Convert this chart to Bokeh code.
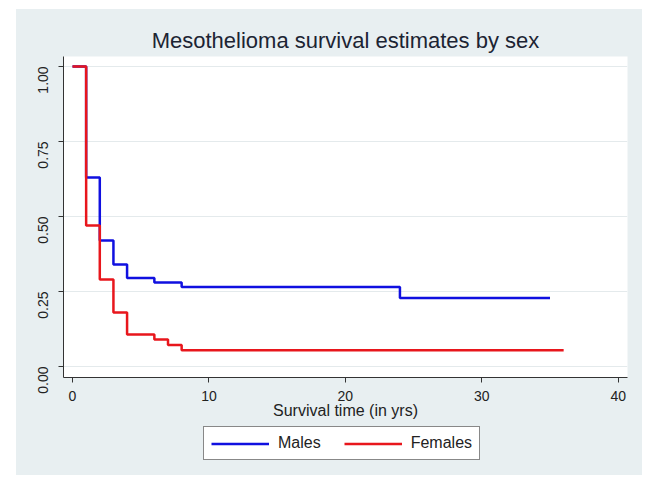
from bokeh.plotting import figure
from bokeh.layouts import column
from bokeh.models import Legend, LegendItem, NumeralTickFormatter, FixedTicker, Range1d
from bokeh.embed import file_html
from bokeh.resources import INLINE

# Kaplan-Meier step data
female_t = [0, 1, 2, 3, 4, 6, 7, 8, 36]
female_s = [1.0, 0.47, 0.29, 0.18, 0.107, 0.09, 0.072, 0.054, 0.054]
male_t = [0, 1, 2, 3, 4, 6, 8, 24, 35]
male_s = [1.0, 0.63, 0.42, 0.34, 0.295, 0.28, 0.265, 0.228, 0.228]

x_ticks = [0, 10, 20, 30, 40]
y_ticks = [0, 0.25, 0.5, 0.75, 1.0]

FONT = "Liberation Sans"
BG = "#e8eff1"
BLUE = "#1010e0"
RED = "#e8161c"

p = figure(width=626, height=413,
           x_range=Range1d(-0.66, 40.68), y_range=Range1d(-0.0367, 1.033),
           output_backend="svg", toolbar_location=None,
           min_border_left=47, min_border_right=15,
           min_border_top=47, min_border_bottom=45,
           title="Mesothelioma survival estimates by sex")
p.background_fill_color = "white"
p.border_fill_color = BG
p.outline_line_color = None

p.title.align = "center"
p.title.text_font = FONT
p.title.text_font_size = "22px"
p.title.text_font_style = "normal"
p.title.text_color = "#1c2433"
p.title.offset = 0
p.title.standoff = 8

# grid
p.xgrid.grid_line_color = None
p.ygrid.ticker = FixedTicker(ticks=y_ticks)
p.ygrid.grid_line_color = "#e4eaec"
p.ygrid.grid_line_width = 1

# axes
p.xaxis.ticker = FixedTicker(ticks=x_ticks)
p.yaxis.ticker = FixedTicker(ticks=y_ticks)
p.yaxis.formatter = NumeralTickFormatter(format="0.00")
p.yaxis.major_label_orientation = 1.5708
for ax in (p.xaxis[0], p.yaxis[0]):
    ax.axis_line_color = "#333333"
    ax.axis_line_width = 1
    ax.major_tick_line_color = "#333333"
    ax.major_tick_out = 5
    ax.major_tick_in = 0
    ax.minor_tick_line_color = None
    ax.major_label_text_font = FONT
    ax.major_label_text_font_size = "14px"
    ax.major_label_text_color = "#222222"
p.xaxis.major_label_standoff = 8
p.yaxis.major_label_standoff = 15

p.xaxis.axis_label = "Survival time (in yrs)"
p.xaxis.axis_label_text_font = FONT
p.xaxis.axis_label_text_font_size = "16px"
p.xaxis.axis_label_text_font_style = "normal"
p.xaxis.axis_label_text_color = "#222222"
p.xaxis.axis_label_standoff = -2

p.step(male_t, male_s, mode="after", line_color=BLUE, line_width=2.5)
p.step(female_t, female_s, mode="after", line_color=RED, line_width=2.5)

# legend strip below the plot (same series, drawn off-view; only the key shows)
lp = figure(width=626, height=53, x_range=Range1d(100, 101), y_range=Range1d(100, 101),
            output_backend="svg", toolbar_location=None,
            x_axis_type=None, y_axis_type=None,
            min_border_left=47, min_border_right=15, min_border_top=0, min_border_bottom=0)
lp.background_fill_color = None
lp.border_fill_color = BG
lp.outline_line_color = None
lp.grid.grid_line_color = None
lm = lp.step(male_t, male_s, mode="after", line_color=BLUE, line_width=2.5)
lf = lp.step(female_t, female_s, mode="after", line_color=RED, line_width=2.5)

legend = Legend(items=[LegendItem(label="Males", renderers=[lm]),
                       LegendItem(label="Females", renderers=[lf])],
                orientation="horizontal", location=(140, 15))
legend.border_line_color = "#111111"
legend.border_line_width = 1.5
legend.background_fill_color = "white"
legend.background_fill_alpha = 1
legend.label_text_font = FONT
legend.label_text_font_size = "16px"
legend.label_text_color = "#222222"
legend.glyph_width = 58
legend.glyph_height = 17
legend.label_height = 17
legend.label_standoff = 9
legend.spacing = 23
legend.padding = 7
legend.margin = 0
lp.add_layout(legend, "center")

layout = column(p, lp, spacing=0)
layout.margin = (9, 0, 0, 16)
layout.styles = {"background-color": BG}

open("out.html", "w").write(file_html(layout, INLINE))
